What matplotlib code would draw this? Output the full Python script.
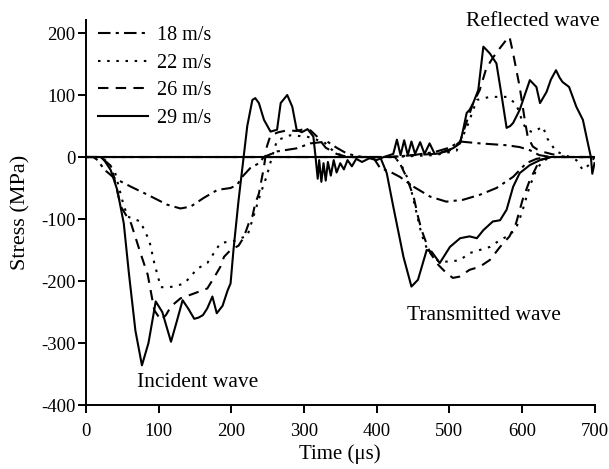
import matplotlib
matplotlib.use("Agg")
import matplotlib.pyplot as plt

plt.rcParams['font.family'] = ['Liberation Serif', 'DejaVu Serif']
plt.rcParams['axes.unicode_minus'] = False

labels = ["18 m/s", "22 m/s", "26 m/s", "29 m/s"]

# incident + reflected signals (time us, stress MPa)
bar1_18 = [(0,0),(10,0),(16,-5),(25,-20),(39,-34),(62,-48),(85,-61),(112,-77),(130,-83),(144,-80),
           (162,-66),(181,-53),(199,-50),(208,-45),(215,-32),(226,-18),(238,-10),(245,0),(263,9),(290,14),
           (309,22),(332,25),(345,15),(360,5),(380,0),(420,0),(450,3),(480,8),(500,15),(515,25),(542,22),
           (579,19),(597,16),(611,11),(624,3),(640,0),(700,0)]
bar1_22 = [(0,0),(20,0),(30,-8),(40,-25),(50,-70),(57,-96),(66,-100),(75,-104),(81,-120),(87,-134),
           (94,-171),(103,-210),(112,-210),(121,-209),(135,-204),(144,-193),(153,-180),(158,-177),(167,-171),
           (176,-155),(185,-139),(194,-137),(205,-135),(215,-130),(222,-128),(240,-60),(249,-30),(256,0),
           (263,27),(281,35),(304,33),(320,27),(327,25),(340,10),(355,0),(420,0),(480,3),(510,10),(525,50),
           (538,92),(556,97),(570,97),(579,97),(592,86),(600,60),(606,44),(615,40),(629,49),(635,30),(647,9),
           (660,3),(675,-5),(684,-21),(695,-10),(700,0)]
bar1_26 = [(0,0),(20,0),(25,-5),(35,-15),(48,-80),(62,-107),(75,-155),(85,-190),(94,-247),(103,-263),
           (110,-255),(117,-241),(130,-228),(149,-220),(167,-212),(176,-195),(185,-177),(190,-161),(199,-150),
           (210,-143),(217,-130),(224,-107),(229,-96),(233,-75),(238,-59),(245,-16),(249,17),(254,35),(265,40),
           (277,43),(290,42),(300,45),(309,43),(318,33),(330,15),(345,5),(360,0),(420,0),(450,3),(480,5),
           (500,10),(515,25),(525,60),(533,87),(542,108),(551,143),(560,160),(570,176),(578,188),(583,194),
           (588,167),(597,113),(604,60),(608,33),(615,17),(624,10),(640,5),(660,0),(700,0)]
bar1_29 = [(0,0),(20,0),(25,-5),(34,-21),(43,-53),(52,-107),(59,-187),(68,-280),(77,-336),(86,-300),
           (96,-233),(105,-250),(117,-298),(125,-265),(133,-231),(141,-245),(149,-261),(155,-259),(161,-255),
           (167,-244),(174,-225),(180,-252),(188,-240),(195,-215),(199,-204),(203,-150),(210,-70),(217,0),
           (222,50),(229,92),(233,95),(238,87),(245,60),(254,41),(263,44),(268,87),(277,100),(284,81),(290,44),
           (297,40),(305,45),(313,33),(316,0),(319,-35),(321,-5),(324,-40),(327,-10),(330,-38),(333,-8),
           (337,-30),(341,-5),(345,-25),(350,-10),(355,-20),(360,-5),(366,-15),(372,-3),(380,-8),(390,-2),
           (400,-5),(410,0),(418,3),(423,5),(428,28),(433,3),(438,27),(443,3),(448,25),(453,5),(460,24),
           (466,5),(473,22),(480,5),(487,6),(495,10),(505,14),(515,22),(519,43),(524,71),(528,76),(533,87),
           (540,108),(547,178),(552,172),(556,167),(565,151),(572,100),(579,47),(584,50),(588,55),(597,76),
           (604,100),(611,124),(620,113),(625,87),(629,95),(634,105),(640,125),(647,140),(652,128),(656,121),
           (665,113),(675,81),(684,60),(690,27),(695,0),(697,-27),(700,-10)]

# transmitted signals
bar2_18 = [(0,0),(395,0),(405,-18),(419,-24),(432,-32),(451,-48),(474,-64),(496,-72),(519,-69),(542,-61),
           (565,-50),(588,-32),(606,-10),(620,-3),(635,0),(700,0)]
bar2_22 = [(0,0),(425,0),(435,-15),(445,-40),(455,-90),(462,-125),(470,-150),(485,-168),(501,-169),
           (515,-166),(528,-155),(542,-150),(556,-145),(570,-134),(583,-126),(592,-115),(600,-90),(610,-50),
           (620,-20),(630,-5),(645,0),(700,0)]
bar2_26 = [(0,0),(425,0),(432,-10),(441,-32),(451,-64),(457,-96),(462,-118),(467,-134),(474,-155),
           (485,-174),(496,-187),(505,-195),(514,-193),(528,-182),(542,-177),(556,-166),(570,-145),(583,-128),
           (592,-107),(601,-69),(611,-37),(620,-16),(624,-5),(640,0),(700,0)]
bar2_29 = [(0,0),(405,0),(414,-26),(423,-80),(437,-161),(448,-209),(457,-198),(469,-150),(476,-153),
           (487,-171),(501,-145),(515,-131),(528,-128),(538,-131),(547,-118),(560,-104),(570,-102),(579,-85),
           (588,-48),(597,-26),(611,-13),(625,-5),(640,0),(700,0)]

x_ticks = [0, 100, 200, 300, 400, 500, 600, 700]
y_ticks = [-400, -300, -200, -100, 0, 100, 200]

styles = [dict(linestyle=(0, (6, 2.5, 1.5, 2.5))),
          dict(linestyle=(0, (1.2, 3.2))),
          dict(linestyle=(0, (5, 3.5))),
          dict(linestyle='-')]

fig = plt.figure(figsize=(6.09, 4.69), dpi=100)
ax = fig.add_axes([86/609, 1 - 405/469, (594.5-86)/609, (405-20)/469])

series = [(bar1_18, bar2_18), (bar1_22, bar2_22), (bar1_26, bar2_26), (bar1_29, bar2_29)]
for (b1, b2), lab, st in zip(series, labels, styles):
    t1, v1 = zip(*b1)
    t2, v2 = zip(*b2)
    ax.plot(t2, v2, color='black', lw=1.5, **st)
    ax.plot(t1, v1, color='black', lw=1.5, label=lab, **st)

ax.set_xlim(0, 700)
ax.set_ylim(-400, 221)
ax.set_xticks(x_ticks)
ax.set_yticks(y_ticks)
ax.spines['top'].set_visible(False)
ax.spines['right'].set_visible(False)
ax.spines['left'].set_linewidth(1.4)
ax.spines['bottom'].set_linewidth(1.4)
ax.spines['bottom'].set_bounds(0, 700)
ax.tick_params(direction='out', length=6, width=1.4, labelsize=13.5)
ax.tick_params(axis='y', pad=1.5)
ax.tick_params(axis='x', pad=7)
ax.set_xlabel('Time (μs)', fontsize=15, labelpad=3)
ax.set_ylabel('Stress (MPa)', fontsize=16, labelpad=8)

ax.legend(loc='upper left', bbox_to_anchor=(0.0, 1.016), frameon=False, fontsize=14.5,
          handlelength=2.5, handletextpad=0.45, labelspacing=0.42, borderaxespad=0.2)

ax.text(615, 219, 'Reflected wave', ha='center', va='center', fontsize=15.5, clip_on=False)
ax.text(548, -255, 'Transmitted wave', ha='center', va='center', fontsize=15.5)
ax.text(154, -364, 'Incident wave', ha='center', va='center', fontsize=15.5)

fig.savefig('out.png', dpi=100)
